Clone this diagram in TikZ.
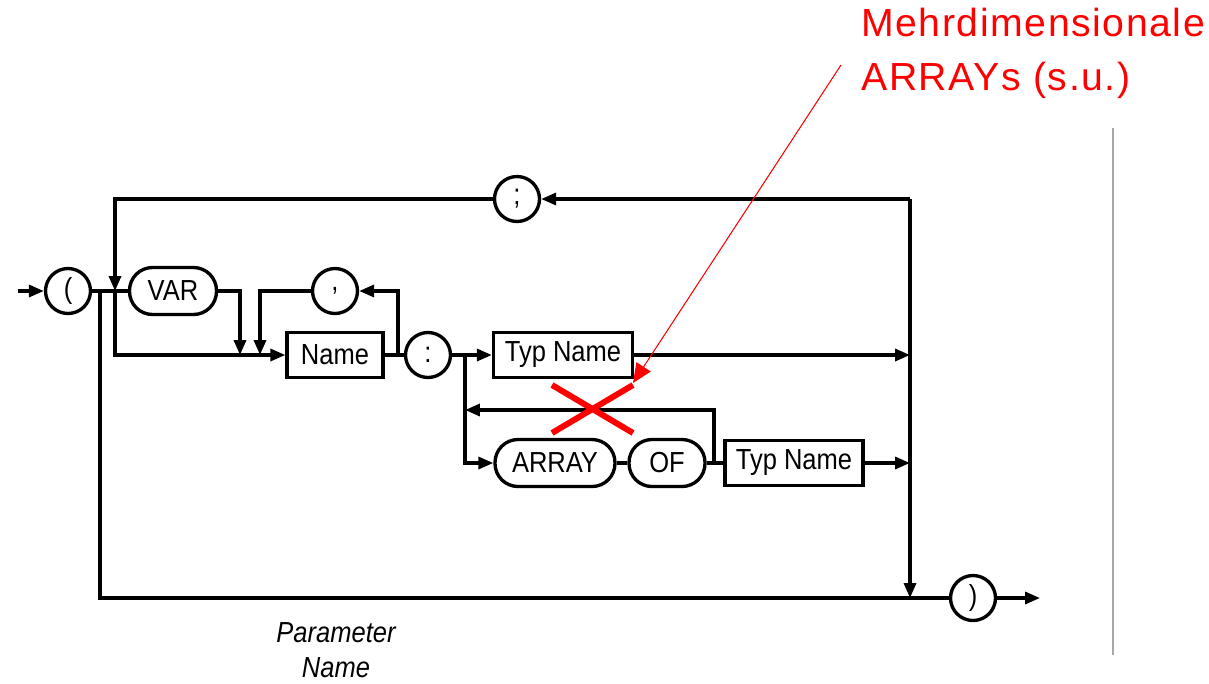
\documentclass[tikz,border=0pt]{standalone}
\usepackage{fontspec}
\setmainfont{Liberation Sans}
\newfontfamily\diafont[FakeStretch=0.88]{Liberation Sans}
\newfontfamily\notefont[LetterSpace=4]{Liberation Sans}
\usetikzlibrary{arrows.meta}

\begin{document}
\begin{tikzpicture}[x=0.02cm, y=-0.02cm,
  label/.style={font=\diafont\fontsize{16.5}{19}\selectfont},
  terminal/.style={label, draw, circle, line width=1.9pt, minimum size=0.9cm, inner sep=0pt},
  keyword/.style={label, draw, rounded corners=0.46cm, line width=1.9pt, minimum height=0.94cm, inner sep=2pt},
  nonterm/.style={label, draw, rectangle, line width=1.9pt, minimum height=0.9cm, inner sep=2pt},
  flow/.style={line width=1.9pt},
  arr/.style={flow, -{Triangle[length=8.5pt, width=6.8pt]}},
  note/.style={red, font=\notefont\fontsize{22.3}{30.5}\selectfont, align=left, inner sep=0pt}
]
  \useasboundingbox (0,0) rectangle (1209,683);

  \node[terminal] (lpar) at (68,291) {(};
  \node[keyword, minimum width=1.74cm] (var) at (173,291) {VAR};
  \node[terminal] (comma) at (335,291) {,};
  \node[terminal] (semi) at (517,199) {;};
  \node[nonterm, minimum width=1.92cm] (name) at (335,355) {Name};
  \node[terminal] (colon) at (428,355) {:};
  \node[nonterm, minimum width=2.78cm] (typ1) at (563,355) {Typ Name};
  \node[keyword, minimum width=2.4cm] (array) at (555,463) {ARRAY};
  \node[keyword, minimum width=1.52cm] (of) at (667,463) {OF};
  \node[nonterm, minimum width=2.76cm] (typ2) at (794,463) {Typ Name};
  \node[terminal] (rpar) at (973,598) {)};
  \node[label, font=\diafont\fontsize{16.5}{20}\selectfont\itshape, align=center, anchor=north, inner sep=0pt] (pname) at (336,622) {Parameter\\Name};

  \coordinate (in) at (18,291);
  \coordinate (out) at (1040,598);
  \coordinate (rc) at (910,199);
  \coordinate (lc) at (115,199);
  \coordinate (lj) at (115,291);
  \coordinate (nc) at (115,355);
  \coordinate (bj) at (100,291);
  \coordinate (bc) at (100,598);
  \coordinate (v1) at (240,291);
  \coordinate (v2) at (240,355);
  \coordinate (c1) at (398,355);
  \coordinate (c2) at (398,291);
  \coordinate (c3) at (260,291);
  \coordinate (c4) at (260,355);
  \coordinate (k1) at (465,355);
  \coordinate (k2) at (465,463);
  \coordinate (a1) at (714,463);
  \coordinate (a2) at (714,410);
  \coordinate (a3) at (465,410);
  \coordinate (r1) at (910,355);
  \coordinate (r2) at (910,463);
  \coordinate (r3) at (910,598);

  \draw[arr] (in) -- (lpar);
  \draw[flow] (lpar) -- (var);
  \draw[arr] (rc) -- (semi);
  \draw[arr] (semi) -- (lc) -- (lj);
  \draw[arr] (lj) -- (nc) -- (name);
  \draw[flow] (bj) -- (bc) -- (rpar);
  \draw[arr] (var) -- (v1) -- (v2);
  \draw[arr] (c1) -- (c2) -- (comma);
  \draw[arr] (comma) -- (c3) -- (c4);
  \draw[flow] (name) -- (colon);
  \draw[arr] (colon) -- (typ1);
  \draw[arr] (k1) -- (k2) -- (array);
  \draw[flow] (array) -- (of);
  \draw[flow] (of) -- (typ2);
  \draw[arr] (a1) -- (a2) -- (a3);
  \draw[arr] (typ1) -- (r1);
  \draw[arr] (typ2) -- (r2);
  \draw[arr] (rc) -- (r3);
  \draw[arr] (rpar) -- (out);

  \node[note, anchor=north west] (remark) at (861,8) {Mehrdimensionale\\ARRAYs (s.u.)};
  \coordinate (lead) at (841,65);
  \coordinate (tip) at (633,383);
  \draw[red, line width=0.6pt, -{Triangle[length=11pt, width=9.6pt]}] (lead) -- (tip);

  \coordinate (xa) at (552,385);
  \coordinate (xb) at (633,433);
  \coordinate (xc) at (552,433);
  \coordinate (xd) at (633,385);
  \draw[red, line width=3.4pt] (xa) -- (xb);
  \draw[red, line width=3.4pt] (xc) -- (xd);

  \coordinate (g1) at (1113,128);
  \coordinate (g2) at (1113,655);
  \draw[gray!70, line width=0.9pt] (g1) -- (g2);
\end{tikzpicture}
\end{document}
